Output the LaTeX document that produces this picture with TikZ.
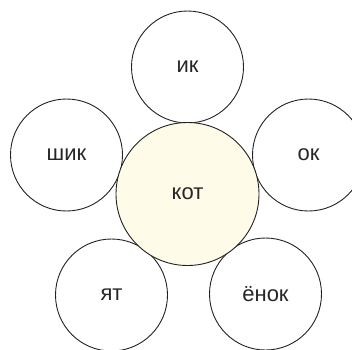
\documentclass[tikz,border=0pt]{standalone}
\usepackage{fontspec}
\setmainfont{Liberation Sans}
\definecolor{centerfill}{HTML}{FEFBE8}
\definecolor{txt}{HTML}{262626}
\definecolor{edge}{HTML}{222222}
\begin{document}
\begin{tikzpicture}[x=1pt,y=-1pt,
  petal/.style={circle,draw=edge,line width=0.9pt,minimum size=112pt,inner sep=0pt,text=txt,font=\fontsize{22}{24}\selectfont},
  core/.style={circle,draw=edge,line width=0.9pt,fill=centerfill,minimum size=143pt,inner sep=0pt,text=txt,font=\fontsize{22}{24}\selectfont}]
\useasboundingbox (0,0) rectangle (352,349);
\coordinate (c) at (187.5,194);
\node[petal] (ik) at ([shift={(0,-127)}]c) {ик};
\node[petal] (shik) at ([shift={(-121,-39)}]c) {шик};
\node[petal] (ok) at ([shift={(121,-39)}]c) {ок};
\node[petal] (yat) at ([shift={(-76,101)}]c) {ят};
\node[petal] (yonok) at ([shift={(78,100)}]c) {ёнок};
\node[core] (kot) at (c) {кот};
\end{tikzpicture}
\end{document}
